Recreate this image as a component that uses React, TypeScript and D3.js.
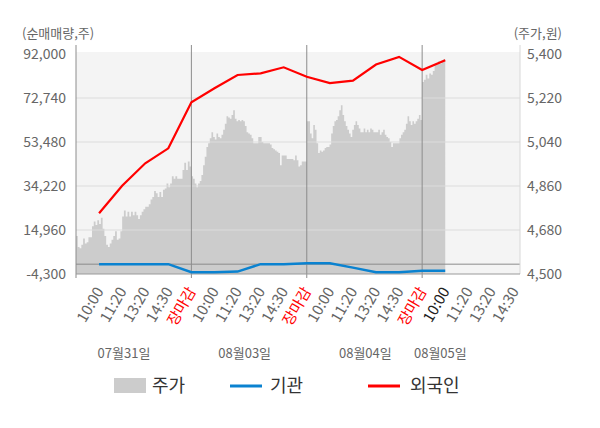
import { useEffect, useRef } from "react"
import * as d3 from "d3"

// x axis categories (one day = 5 slots)
const timeLabels = ["10:00", "11:20", "13:20", "14:30", "장마감"]
const days = ["07월31일", "08월03일", "08월04일", "08월05일"]
const dayLabelSlots = [2.08, 7.31, 12.54, 15.79]
const lastDayLabelCount = 4
const daySpans = [5, 5, 5, 1]

const leftTicks = [-4300, 14960, 34220, 53480, 72740, 92000]
const rightTicks = [4500, 4680, 4860, 5040, 5220, 5400]

// 주가 (minute prices, per day)
const priceDay1 = [
  4655, 4610, 4605, 4620, 4645, 4625, 4630, 4650, 4650, 4695, 4715, 4700, 4720, 4705, 4730, 4685, 4655,
  4620, 4610, 4625, 4640, 4655, 4675, 4640, 4645, 4675, 4735, 4760, 4735, 4755, 4735, 4755, 4740, 4755,
  4740, 4725, 4740, 4755, 4765, 4775, 4775, 4785, 4805, 4815, 4840, 4830, 4815, 4835, 4815, 4845, 4850,
  4870, 4855, 4870, 4900, 4890, 4900, 4890, 4890, 4890, 4925, 4955, 4925, 4960, 4940, 4945,
]
const priceDay2 = [
  4900, 4890, 4870, 4855, 4870, 4880, 4905, 4945, 4980, 5020, 5035, 5055, 5080, 5060, 5050, 5075, 5060,
  5055, 5070, 5090, 5115, 5145, 5140, 5135, 5150, 5170, 5135, 5125, 5130, 5125, 5130, 5125, 5105, 5080,
  5075, 5070, 5055, 5035, 5035, 5035, 5060, 5060, 5040, 5035, 5035, 5035, 5035, 5030, 5015, 5010, 5005,
  5000, 4995, 4945, 4985, 4985, 4985, 4970, 4970, 4970, 4970, 4965, 4985, 4965, 4940, 4945, 4960, 4960,
  4960, 4960,
]
const priceDay3 = [
  5125, 5125, 5075, 5055, 5110, 5090, 5035, 4995, 5005, 5000, 5005, 5015, 5020, 5020, 5030, 5075, 5105,
  5125, 5130, 5145, 5170, 5190, 5150, 5125, 5105, 5090, 5075, 5060, 5090, 5110, 5125, 5110, 5095, 5080,
  5080, 5095, 5080, 5090, 5080, 5095, 5090, 5080, 5080, 5080, 5090, 5070, 5080, 5090, 5070, 5060, 5055,
  5040, 5020, 5035, 5035, 5035, 5035, 5055, 5070, 5080, 5090, 5115, 5145, 5125, 5110, 5125, 5115, 5125,
  5135, 5150, 5130, 5130,
]
const priceDay4 = [5285, 5295, 5315, 5300, 5320, 5315, 5330, 5355, 5360, 5370, 5360, 5375, 5380, 5370]

// 기관 / 외국인 (net volume at each time slot)
const institution = [0, 0, 0, 0, -3500, -3500, -3240, 0, 0, 440, 440, -1500, -3500, -3500, -2930, -2930]
const foreigner = [
  22270, 34350, 44160, 50720, 70860, 76990, 82810, 83550, 86180, 82060, 79250, 80310, 87400, 90750, 85000,
  89300,
]

const FONT = "'Noto Sans CJK KR', 'Noto Sans', sans-serif"

export default function App() {
  const svgRef = useRef<SVGSVGElement>(null)

  useEffect(() => {
    if (!svgRef.current) return
    const svg = d3.select(svgRef.current)
    svg.selectAll("*").remove()

    const left = 76
    const right = 520
    const top = 54
    const bottom = 274

    const x = d3.scaleLinear().domain([0, 19.24]).range([left, right])
    const yL = d3.scaleLinear().domain([-4300, 92000]).range([bottom, top])
    const yR = d3.scaleLinear().domain([4500, 5400]).range([bottom, top])

    // plot background
    svg
      .append("rect")
      .attr("x", left)
      .attr("y", top - 2)
      .attr("width", right - left)
      .attr("height", bottom - top + 2)
      .attr("fill", "#f4f4f4")

    // price area
    const priceDays = [priceDay1, priceDay2, priceDay3, priceDay4]
    const pricePts: { s: number; p: number }[] = []
    priceDays.forEach((arr, d) => {
      arr.forEach((p, i) => {
        pricePts.push({ s: d * 5 + (i / (arr.length - 1)) * daySpans[d], p })
      })
    })
    const area = d3
      .area<{ s: number; p: number }>()
      .x((d) => x(d.s))
      .y0(yR(4500))
      .y1((d) => yR(d.p))
      .curve(d3.curveStepAfter)
    svg.append("path").attr("d", area(pricePts)).attr("fill", "#cccccc")

    // horizontal grid
    svg
      .selectAll(".grid")
      .data(leftTicks.slice(1, -1))
      .enter()
      .append("line")
      .attr("x1", left)
      .attr("x2", right)
      .attr("y1", (d) => yL(d))
      .attr("y2", (d) => yL(d))
      .attr("stroke", "#dcdcdc")
      .attr("stroke-width", 1)

    // zero line
    svg
      .append("line")
      .attr("x1", left)
      .attr("x2", right)
      .attr("y1", yL(0))
      .attr("y2", yL(0))
      .attr("stroke", "#8c8c8c")

    // day separators + left axis
    svg
      .selectAll(".sep")
      .data([0, 5, 10, 15])
      .enter()
      .append("line")
      .attr("x1", (d) => x(d))
      .attr("x2", (d) => x(d))
      .attr("y1", 45)
      .attr("y2", bottom + 4)
      .attr("stroke", "#8c8c8c")

    // right axis
    svg
      .append("line")
      .attr("x1", right)
      .attr("x2", right)
      .attr("y1", 45)
      .attr("y2", bottom)
      .attr("stroke", "#d8d8d8")

    // bottom axis
    svg
      .append("line")
      .attr("x1", left)
      .attr("x2", right)
      .attr("y1", bottom)
      .attr("y2", bottom)
      .attr("stroke", "#9a9a9a")

    // series lines
    const line = d3
      .line<number>()
      .x((_, i) => x(i + 1))
      .y((d) => yL(d))
    svg
      .append("path")
      .attr("d", line(institution))
      .attr("fill", "none")
      .attr("stroke", "#0a82d0")
      .attr("stroke-width", 2.5)
    svg
      .append("path")
      .attr("d", line(foreigner))
      .attr("fill", "none")
      .attr("stroke", "#ff0000")
      .attr("stroke-width", 2.2)

    // left ticks
    svg
      .selectAll(".lt")
      .data(leftTicks)
      .enter()
      .append("text")
      .attr("x", 66)
      .attr("y", (d) => yL(d))
      .attr("dy", "0.36em")
      .attr("text-anchor", "end")
      .style("font-family", FONT)
      .style("font-size", "14px")
      .style("fill", "#666")
      .text((d) => d3.format(",")(d).replace("−", "-"))

    // right ticks
    svg
      .selectAll(".rt")
      .data(rightTicks)
      .enter()
      .append("text")
      .attr("x", 527)
      .attr("y", (d) => yR(d))
      .attr("dy", "0.36em")
      .attr("text-anchor", "start")
      .style("font-family", FONT)
      .style("font-size", "14px")
      .style("fill", "#666")
      .text((d) => d3.format(",")(d))

    // axis titles
    svg
      .append("text")
      .attr("x", 22)
      .attr("y", 38)
      .style("font-family", FONT)
      .style("font-size", "13px")
      .style("fill", "#666")
      .text("(순매매량,주)")
    svg
      .append("text")
      .attr("x", 562)
      .attr("y", 38)
      .attr("text-anchor", "end")
      .style("font-family", FONT)
      .style("font-size", "13px")
      .style("fill", "#666")
      .text("(주가,원)")

    // x tick labels
    const xLabels: { s: number; t: string }[] = []
    days.forEach((_, d) => {
      const n = d === days.length - 1 ? lastDayLabelCount : timeLabels.length
      for (let k = 0; k < n; k++) xLabels.push({ s: d * 5 + k + 1, t: timeLabels[k] })
    })
    svg
      .selectAll(".xl")
      .data(xLabels)
      .enter()
      .append("text")
      .attr("transform", (d) => `translate(${x(d.s) + 5},${bottom + 17}) rotate(-60)`)
      .attr("text-anchor", "end")
      .style("font-family", FONT)
      .style("font-size", "15px")
      .style("fill", (d, i) => (d.t === "장마감" ? "#ff0000" : i === 15 ? "#222" : "#666"))
      .text((d) => d.t)

    // day labels
    svg
      .selectAll(".dl")
      .data(days)
      .enter()
      .append("text")
      .attr("x", (_, i) => x(dayLabelSlots[i]))
      .attr("y", 358)
      .attr("text-anchor", "middle")
      .style("font-family", FONT)
      .style("font-size", "13px")
      .style("fill", "#666")
      .text((d) => d)

    // legend
    const lg = svg.append("g").attr("transform", "translate(0,386)")
    lg.append("rect").attr("x", 114).attr("y", -8).attr("width", 32).attr("height", 15).attr("fill", "#cccccc")
    lg.append("line").attr("x1", 230).attr("x2", 262).attr("y1", 0).attr("y2", 0).attr("stroke", "#0a82d0").attr("stroke-width", 3)
    lg.append("line").attr("x1", 368).attr("x2", 400).attr("y1", 0).attr("y2", 0).attr("stroke", "#ff0000").attr("stroke-width", 3)
    const legendText = [
      { x: 152, t: "주가" },
      { x: 270, t: "기관" },
      { x: 410, t: "외국인" },
    ]
    lg.selectAll("text")
      .data(legendText)
      .enter()
      .append("text")
      .attr("x", (d) => d.x)
      .attr("y", 0)
      .attr("dy", "0.36em")
      .style("font-family", FONT)
      .style("font-size", "18px")
      .style("fill", "#333")
      .text((d) => d.t)
  }, [])

  return (
    <div style={{ position: "fixed", left: 0, top: 0, background: "#fff" }}>
      <svg ref={svgRef} width={600} height={428}></svg>
    </div>
  )
}
